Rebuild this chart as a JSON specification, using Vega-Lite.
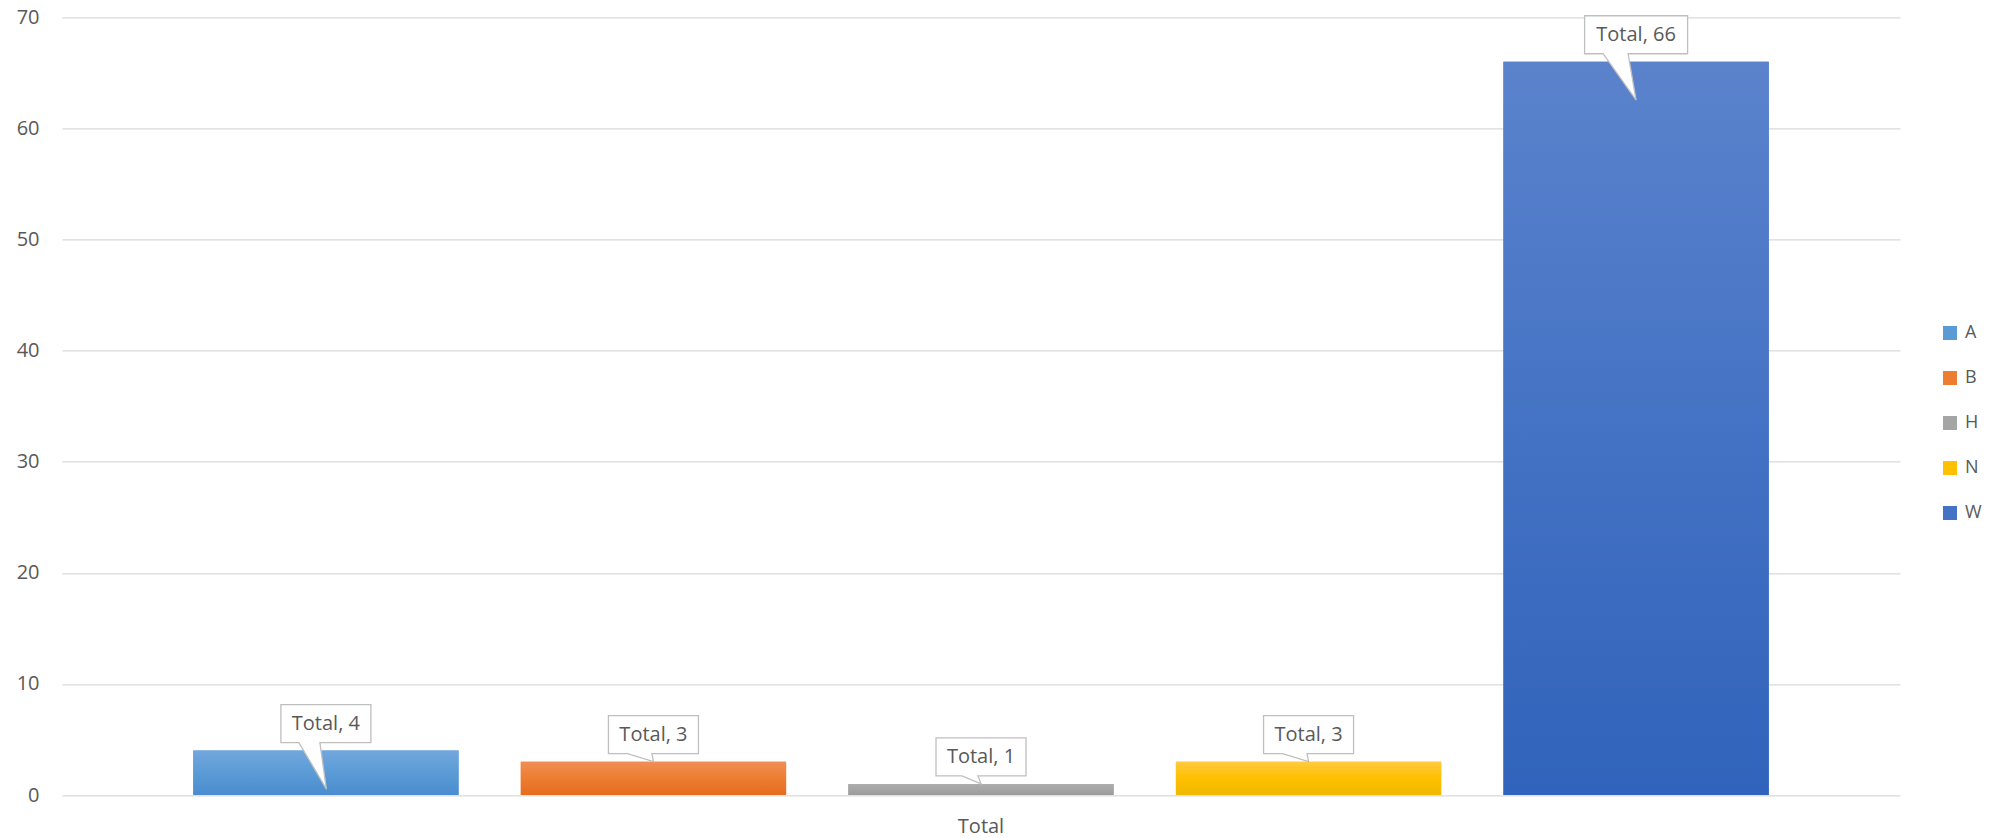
{
  "$schema": "https://vega.github.io/schema/vega-lite/v6.json",
  "width": 1838,
  "height": 777.7,
  "autosize": "none",
  "padding": {"left": 62, "top": 17.3, "right": 91, "bottom": 43},
  "background": "white",
  "config": {"font": "Open Sans", "view": {"stroke": null}},
  "data": {
    "values": [
      {"cat": "Total", "series": "A", "value": 4},
      {"cat": "Total", "series": "B", "value": 3},
      {"cat": "Total", "series": "H", "value": 1},
      {"cat": "Total", "series": "N", "value": 3},
      {"cat": "Total", "series": "W", "value": 66}
    ]
  },
  "transform": [{"calculate": "datum.cat + ', ' + datum.value", "as": "label"}],
  "encoding": {
    "x": {
      "field": "cat", "type": "nominal",
      "scale": {"paddingOuter": 0.0833, "paddingInner": 0},
      "axis": {"title": null, "labelAngle": 0, "labelFontSize": 20, "labelColor": "#595959", "labelPadding": 21, "ticks": false, "domain": false}
    },
    "xOffset": {
      "field": "series", "type": "nominal",
      "scale": {"domain": ["A", "B", "H", "N", "W"], "paddingInner": 0.19, "paddingOuter": 0}
    },
    "y": {
      "field": "value", "type": "quantitative",
      "scale": {"domain": [0, 70], "nice": false},
      "axis": {"title": null, "values": [0, 10, 20, 30, 40, 50, 60, 70], "gridColor": "#d9d9d9", "gridWidth": 1.3, "labelPadding": 23, "labelFontSize": 20, "labelColor": "#595959", "ticks": false, "domain": false}
    }
  },
  "layer": [
    {
      "mark": {"type": "bar"},
      "encoding": {
        "color": {
          "field": "series", "type": "nominal",
          "scale": {"domain": ["A", "B", "H", "N", "W"], "range": ["#5B9BD5", "#ED7D31", "#A5A5A5", "#FFC000", "#4472C4"]},
          "legend": {"title": null, "orient": "none", "legendX": 1879, "legendY": 305.7, "symbolType": "square", "symbolSize": 196, "symbolStrokeWidth": 0, "symbolOpacity": 1, "labelFontSize": 18, "labelColor": "#595959", "labelOffset": 6, "rowPadding": 25, "clipHeight": 20, "padding": 0}
        }
      }
    },
    {
      "transform": [{"filter": "datum.series == 'A'"}],
      "mark": {"type": "bar", "fill": {"gradient": "linear", "x1": 0, "y1": 0, "x2": 0, "y2": 1,
        "stops": [{"offset": 0, "color": "#72a7dd"}, {"offset": 0.5, "color": "#5B9BD5"}, {"offset": 1, "color": "#4a8ccf"}]}},
      "encoding": {}
    },
    {
      "transform": [{"filter": "datum.series == 'B'"}],
      "mark": {"type": "bar", "fill": {"gradient": "linear", "x1": 0, "y1": 0, "x2": 0, "y2": 1,
        "stops": [{"offset": 0, "color": "#f08e55"}, {"offset": 0.5, "color": "#ED7D31"}, {"offset": 1, "color": "#e46c1e"}]}},
      "encoding": {}
    },
    {
      "transform": [{"filter": "datum.series == 'H'"}],
      "mark": {"type": "bar", "fill": {"gradient": "linear", "x1": 0, "y1": 0, "x2": 0, "y2": 1,
        "stops": [{"offset": 0, "color": "#adadad"}, {"offset": 0.5, "color": "#A5A5A5"}, {"offset": 1, "color": "#9b9b9b"}]}},
      "encoding": {}
    },
    {
      "transform": [{"filter": "datum.series == 'N'"}],
      "mark": {"type": "bar", "fill": {"gradient": "linear", "x1": 0, "y1": 0, "x2": 0, "y2": 1,
        "stops": [{"offset": 0, "color": "#ffca3f"}, {"offset": 0.5, "color": "#FFC000"}, {"offset": 1, "color": "#efb900"}]}},
      "encoding": {}
    },
    {
      "transform": [{"filter": "datum.series == 'W'"}],
      "mark": {"type": "bar", "fill": {"gradient": "linear", "x1": 0, "y1": 0, "x2": 0, "y2": 1,
        "stops": [{"offset": 0, "color": "#5b83cc"}, {"offset": 0.5, "color": "#4472C4"}, {"offset": 1, "color": "#3063bb"}]}},
      "encoding": {}
    },
    {
      "mark": {"type": "point", "filled": true, "fill": "white", "stroke": "#bfbfbf", "strokeWidth": 1.3, "size": 10000, "opacity": 1},
      "encoding": {
        "shape": {
          "field": "label", "type": "nominal", "legend": null,
          "scale": {
            "domain": ["Total, 4", "Total, 3", "Total, 1", "Total, 66"],
            "range": [
              "M-0.9,-0.92L0.9,-0.92L0.9,-0.16L-0.12,-0.16L0.01,0.77L-0.54,-0.16L-0.9,-0.16Z",
              "M-0.9,-0.92L0.9,-0.92L0.9,-0.16L-0.03,-0.16L0,0L-0.52,-0.16L-0.9,-0.16Z",
              "M-0.9,-0.92L0.9,-0.92L0.9,-0.16L-0.06,-0.16L0,0L-0.38,-0.16L-0.9,-0.16Z",
              "M-1.03,-0.92L1.03,-0.92L1.03,-0.16L-0.16,-0.16L0,0.766L-0.66,-0.16L-1.03,-0.16Z"
            ]
          }
        }
      }
    },
    {
      "mark": {"type": "text", "dy": -27, "fontSize": 20, "color": "#595959", "baseline": "middle", "align": "center"},
      "encoding": {"text": {"field": "label", "type": "nominal"}}
    }
  ]
}
